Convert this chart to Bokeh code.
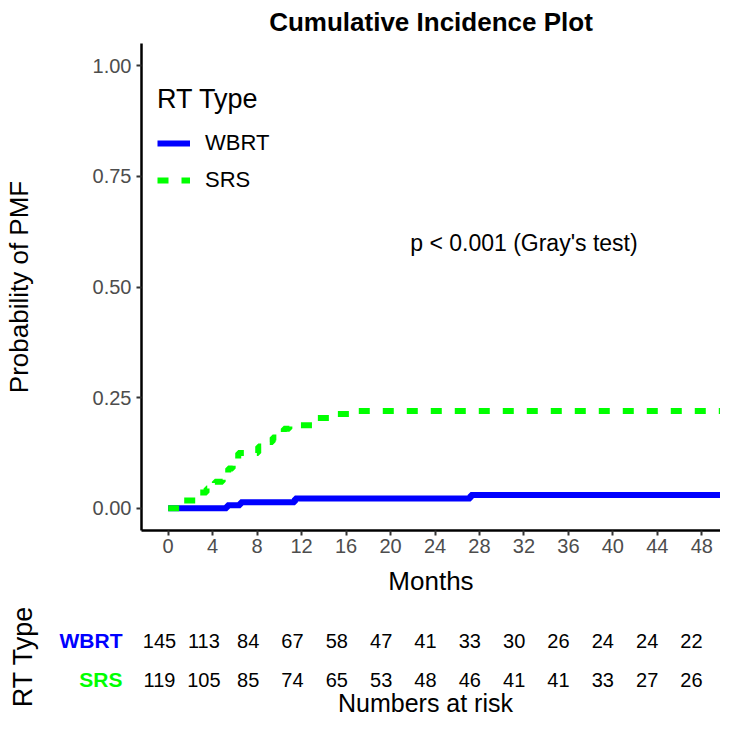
import math
from bokeh.plotting import figure
from bokeh.models import Range1d, FixedTicker, Legend, LegendItem, Label, NumeralTickFormatter
from bokeh.layouts import column
from bokeh.embed import file_html
from bokeh.resources import INLINE
from bokeh.core.properties import value

FONT = "Liberation Sans"

# ---- data ----
groups = ["WBRT", "SRS"]
group_colors = ["#0000FF", "#00FF00"]

wbrt_time = [0, 5.3, 6.5, 11.4, 27.2, 50.4]
wbrt_cif = [0, 0.007, 0.014, 0.022, 0.030, 0.030]

srs_time = [0, 1.2, 2.65, 3.45, 4.2, 4.9, 5.4, 5.8, 6.3, 8.1, 8.7, 9.4, 9.9,
            10.4, 10.9, 13.1, 15.1, 16.8, 50.4]
srs_cif = [0, 0.018, 0.036, 0.045, 0.060, 0.075, 0.090, 0.105, 0.125, 0.140,
           0.150, 0.160, 0.170, 0.180, 0.188, 0.204, 0.213, 0.220, 0.220]

risk_times = [0, 4, 8, 12, 16, 20, 24, 28, 32, 36, 40, 44, 48]
wbrt_risk = [145, 113, 84, 67, 58, 47, 41, 33, 30, 26, 24, 24, 22]
srs_risk = [119, 105, 85, 74, 65, 53, 48, 46, 41, 41, 33, 27, 26]

x_ticks = [0, 4, 8, 12, 16, 20, 24, 28, 32, 36, 40, 44, 48]
y_ticks = [0.0, 0.25, 0.5, 0.75, 1.0]

pval_text = "p < 0.001 (Gray's test)"
pval_x, pval_y = 32, 0.6

# ---- main plot ----
p = figure(width=720, height=598,
           x_range=Range1d(-2.4, 49.68), y_range=Range1d(-0.05, 1.05),
           output_backend="svg", toolbar_location=None,
           min_border_left=141, min_border_right=0,
           min_border_top=43, min_border_bottom=68,
           title="Cumulative Incidence Plot")
p.frame_align = False
p.outline_line_color = None
p.grid.visible = False
p.background_fill_color = "white"
p.border_fill_color = "white"

p.title.text_font = FONT
p.title.text_font_size = "26px"
p.title.text_font_style = "bold"
p.title.align = "center"
p.title.vertical_align = "top"
p.title.standoff = 10
p.title.text_color = "black"

for ax in (p.xaxis[0], p.yaxis[0]):
    ax.axis_line_color = "black"
    ax.axis_line_width = 2.5
    ax.major_tick_line_color = "#333333"
    ax.major_tick_line_width = 2
    ax.major_tick_out = 5
    ax.major_tick_in = 0
    ax.minor_tick_line_color = None
    ax.major_label_text_font = FONT
    ax.major_label_text_font_size = "20px"
    ax.major_label_text_color = "#4D4D4D"
    ax.axis_label_text_font = FONT
    ax.axis_label_text_font_size = "26px"
    ax.axis_label_text_font_style = "normal"
    ax.axis_label_text_color = "black"

p.xaxis.ticker = FixedTicker(ticks=x_ticks)
p.xaxis.axis_label = "Months"
p.xaxis.major_label_standoff = 3
p.xaxis.axis_label_standoff = 10

p.yaxis.ticker = FixedTicker(ticks=y_ticks)
p.yaxis.formatter = NumeralTickFormatter(format="0.00")
p.yaxis.axis_label = "Probability of PMF"
p.yaxis.major_label_standoff = 5
p.yaxis.axis_label_standoff = 56

r1 = p.step(wbrt_time, wbrt_cif, mode="after", line_color=group_colors[0],
            line_width=6)
r2 = p.step(srs_time, srs_cif, mode="after", line_color=group_colors[1],
            line_width=6, line_dash="11 13")

legend = Legend(items=[LegendItem(label=groups[0], renderers=[r1]),
                       LegendItem(label=groups[1], renderers=[r2])],
                title="RT Type", location=(10, 329))
legend.title_text_font = FONT
legend.title_text_font_size = "27px"
legend.title_text_font_style = "normal"
legend.title_text_color = "black"
legend.title_standoff = 13
legend.label_text_font = FONT
legend.label_text_font_size = "22px"
legend.label_text_color = "black"
legend.glyph_width = 33
legend.glyph_height = 30
legend.label_height = 30
legend.label_standoff = 15
legend.spacing = 7
legend.padding = 6
legend.margin = 0
legend.background_fill_alpha = 0
legend.border_line_alpha = 0
p.add_layout(legend)

p.add_layout(Label(x=pval_x, y=pval_y, text=pval_text, text_align="center",
                   text_baseline="middle", text_font=FONT,
                   text_font_size="23px", text_color="black"))

# ---- risk table (same months-per-pixel as the plot, full-width frame) ----
t = figure(width=720, height=122,
           x_range=Range1d(-14.346, 50.62), y_range=Range1d(122, 0),
           output_backend="svg", toolbar_location=None, min_border=0,
           min_border_left=0, min_border_right=0,
           min_border_top=0, min_border_bottom=0,
           x_axis_location=None, y_axis_location=None)
t.frame_align = False
t.outline_line_color = None
t.grid.visible = False

row_y = [42, 81]
for risk, yy in zip([wbrt_risk, srs_risk], row_y):
    t.text(x=risk_times, y=[yy] * len(risk_times), text=[str(v) for v in risk],
           text_align="center", text_baseline="middle",
           text_font=value(FONT), text_font_size="20px", text_color="black")

for g, c, yy in zip(groups, group_colors, row_y):
    t.add_layout(Label(x=-3.34, y=yy, text=g, text_color=c, text_align="right",
                       text_baseline="middle", text_font=FONT,
                       text_font_size="21px", text_font_style="bold"))

t.add_layout(Label(x=-12.36, y=58, text="RT Type", angle=math.pi / 2,
                   text_align="center", text_baseline="middle", text_font=FONT,
                   text_font_size="27px", text_color="black"))

t.add_layout(Label(x=24.0, y=104, text="Numbers at risk", text_align="center",
                   text_baseline="middle", text_font=FONT,
                   text_font_size="25px", text_color="black"))

layout = column(p, t, spacing=0)
open("out.html", "w").write(file_html(layout, INLINE))
